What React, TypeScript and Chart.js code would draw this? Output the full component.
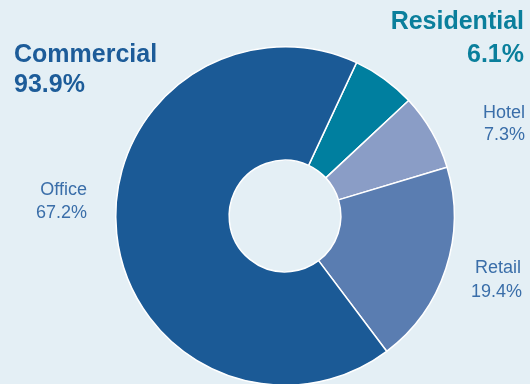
import React, { useEffect, useRef } from "react";
import { Chart, registerables } from "chart.js";

Chart.register(...registerables);

const categories = ["Residential", "Hotel", "Retail", "Office"];
const shares = [6.1, 7.3, 19.4, 67.2];
const sliceColors = ["#007f9f", "#8a9dc6", "#5a7db1", "#1b5a96"];
const groupLabels = ["Commercial", "Residential"];
const groupShares = ["93.9%", "6.1%"];

const BG = "#e4eff5";

export default function App() {
  const ref = useRef<HTMLCanvasElement>(null);
  useEffect(() => {
    document.body.style.margin = "0";
    const chart = new Chart(ref.current!, {
      type: "doughnut",
      data: {
        labels: categories,
        datasets: [
          {
            data: shares,
            backgroundColor: sliceColors,
            borderColor: "#ffffff",
            borderWidth: 1.5,
          },
        ],
      },
      options: {
        animation: false,
        responsive: false,
        rotation: 25,
        cutout: "33%",
        layout: { padding: { left: 115, right: 75, top: 46, bottom: 48 } },
        plugins: { legend: { display: false }, tooltip: { enabled: false } },
      },
    });
    return () => chart.destroy();
  }, []);

  const small: React.CSSProperties = {
    position: "absolute",
    fontFamily: "'Liberation Sans', Arial, sans-serif",
    fontSize: 18,
    lineHeight: 1,
    color: "#3a6ea9",
    whiteSpace: "nowrap",
    textAlign: "right",
  };
  const big: React.CSSProperties = {
    position: "absolute",
    fontFamily: "'Liberation Sans', Arial, sans-serif",
    fontSize: 25,
    fontWeight: 700,
    lineHeight: 1,
    whiteSpace: "nowrap",
  };

  return (
    <div style={{ position: "relative", width: 530, height: 384, overflow: "hidden", background: BG }}>
      <canvas ref={ref} width={530} height={434} style={{ position: "absolute", left: 0, top: 0 }} />
      <div style={{ ...big, left: 14, top: 41, color: "#1d5c99" }}>{groupLabels[0]}</div>
      <div style={{ ...big, left: 14, top: 71, color: "#1d5c99" }}>{groupShares[0]}</div>
      <div style={{ ...big, right: 6, top: 8, color: "#0a7f9c", textAlign: "right" }}>{groupLabels[1]}</div>
      <div style={{ ...big, right: 6, top: 41, color: "#0a7f9c", textAlign: "right" }}>{groupShares[1]}</div>
      <div style={{ ...small, right: 5, top: 103 }}>{categories[1]}</div>
      <div style={{ ...small, right: 5, top: 125 }}>{shares[1].toFixed(1)}%</div>
      <div style={{ ...small, right: 443, top: 180 }}>{categories[3]}</div>
      <div style={{ ...small, right: 443, top: 203 }}>{shares[3].toFixed(1)}%</div>
      <div style={{ ...small, right: 9, top: 258 }}>{categories[2]}</div>
      <div style={{ ...small, right: 8, top: 282 }}>{shares[2].toFixed(1)}%</div>
    </div>
  );
}
